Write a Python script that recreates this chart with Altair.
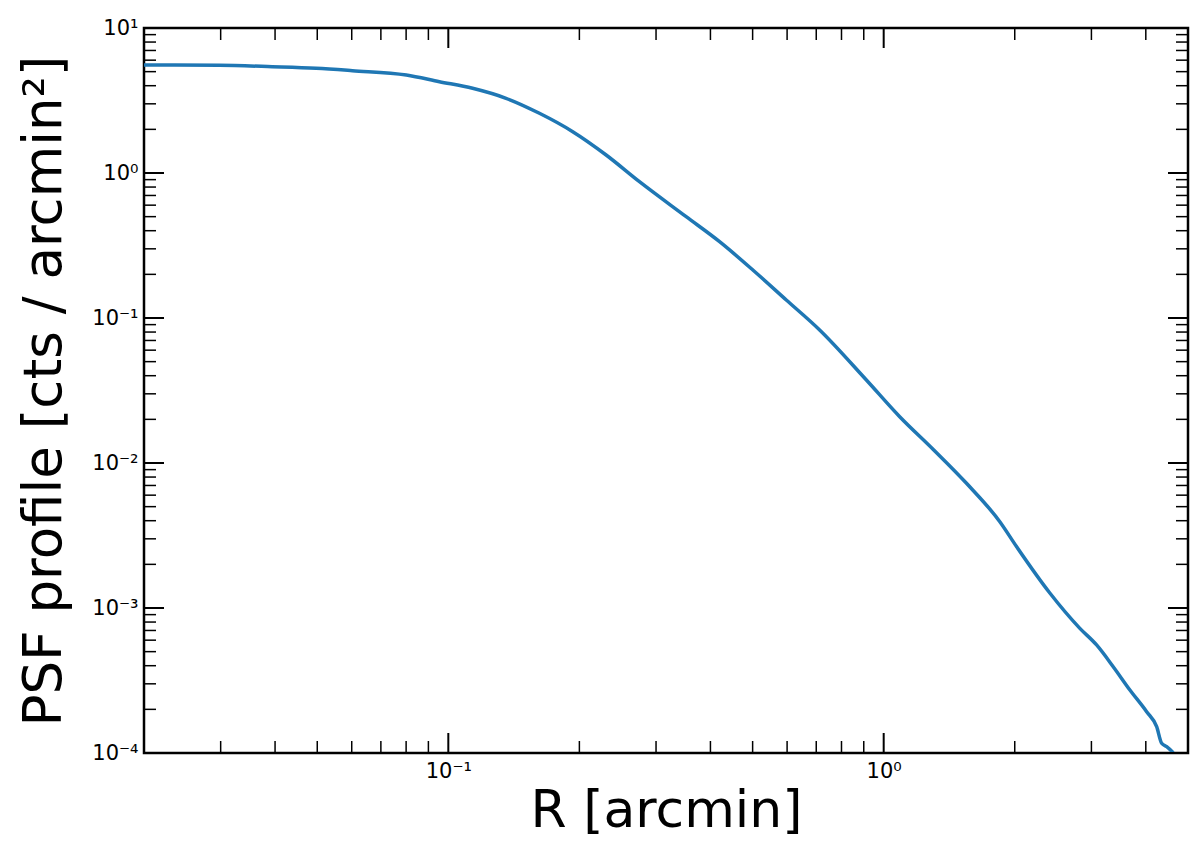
import altair as alt
import pandas as pd

# Profile
R = [0.0199, 0.0298, 0.0394, 0.0497, 0.0602, 0.0801, 0.0954, 0.1137, 0.1357, 0.1619,
     0.1931, 0.2304, 0.2748, 0.3518, 0.4198, 0.5006, 0.5974, 0.7127,
     0.9125, 1.0884, 1.2981, 1.5495, 1.8483, 2.0221, 2.4076, 2.8223, 3.0831,
     3.3666, 3.6771, 4.0175, 4.2364, 4.3499, 4.4666, 4.6257]
PSF = [5.557, 5.532, 5.410, 5.274, 5.076, 4.742, 4.264, 3.838, 3.275, 2.581,
       1.927, 1.331, 0.8710, 0.4995, 0.3359, 0.2143, 0.1331, 0.0827,
       0.03736, 0.02086, 0.01245, 0.007244, 0.003937, 0.002634, 0.001269, 0.000724, 0.000556,
       0.0003937, 0.0002720, 0.0001927, 0.0001518, 0.0001166, 0.0001105, 0.0001005]

x_major = [0.1, 1.0]
x_minor = [0.03, 0.04, 0.05, 0.06, 0.07, 0.08, 0.09,
           0.2, 0.3, 0.4, 0.5, 0.6, 0.7, 0.8, 0.9, 2, 3, 4]
y_major = [1e-4, 1e-3, 1e-2, 1e-1, 1, 10]
y_minor = [m * d for d in [1e-4, 1e-3, 1e-2, 1e-1, 1] for m in range(2, 10)]

W, H = 1044, 725
FONT = "DejaVu Sans"
BLUE = "#1f77b4"

sup = {-4: "⁻⁴", -3: "⁻³", -2: "⁻²", -1: "⁻¹", 0: "⁰", 1: "¹"}
expr = "''"
for k, s in sup.items():
    expr = f"(round(log(datum.value)/LN10) == {k} ? '10{s}' : {expr})"

xscale = alt.Scale(type="log", domain=[0.02, 5], nice=False)
yscale = alt.Scale(type="log", domain=[1e-4, 10], nice=False)

xaxis = alt.Axis(values=x_major, labelExpr=expr, title="R [arcmin]", ticks=False,
                 domain=False, grid=False, labelFont=FONT, labelFontSize=21,
                 labelColor="black", labelPadding=7, titleFont=FONT,
                 titleFontSize=52, titleFontWeight="normal", titleColor="black",
                 titlePadding=4)
yaxis = alt.Axis(values=y_major, labelExpr=expr,
                 title="PSF profile [cts / arcmin²]", ticks=False, domain=False,
                 grid=False, labelFont=FONT, labelFontSize=21, labelColor="black",
                 labelPadding=6, titleFont=FONT, titleFontSize=53,
                 titleFontWeight="normal", titleColor="black", titlePadding=20)

df = pd.DataFrame({"R": R, "PSF": PSF})
line = alt.Chart(df).mark_line(color=BLUE, strokeWidth=3.5, clip=True,
                               interpolate="monotone").encode(
    x=alt.X("R:Q", scale=xscale, axis=xaxis),
    y=alt.Y("PSF:Q", scale=yscale, axis=yaxis),
)

def xticks(vals, length, sw):
    d = pd.DataFrame({"R": vals})
    bot = alt.Chart(d).mark_rule(color="black", strokeWidth=sw).encode(
        x=alt.X("R:Q", scale=xscale, axis=xaxis),
        y=alt.value(H), y2=alt.value(H - length))
    top = alt.Chart(d).mark_rule(color="black", strokeWidth=sw).encode(
        x=alt.X("R:Q", scale=xscale, axis=xaxis),
        y=alt.value(0), y2=alt.value(length))
    return [bot, top]

def yticks(vals, length, sw):
    d = pd.DataFrame({"PSF": vals})
    left = alt.Chart(d).mark_rule(color="black", strokeWidth=sw).encode(
        y=alt.Y("PSF:Q", scale=yscale, axis=yaxis),
        x=alt.value(0), x2=alt.value(length))
    right = alt.Chart(d).mark_rule(color="black", strokeWidth=sw).encode(
        y=alt.Y("PSF:Q", scale=yscale, axis=yaxis),
        x=alt.value(W), x2=alt.value(W - length))
    return [left, right]

layers = ([line] + xticks(x_major, 20, 2) + xticks(x_minor, 12, 1.5)
          + yticks(y_major, 20, 2) + yticks(y_minor, 12, 1.5))

chart = alt.layer(*layers).properties(
    width=W, height=H,
    autosize=alt.AutoSizeParams(type="none"),
    padding={"left": 136, "top": 20, "right": 4, "bottom": 88},
).configure(
    background="white",
    view=alt.ViewConfig(stroke="black", strokeWidth=2.5),
)

chart.save("out.html", embed_options={"renderer": "svg", "actions": False})
